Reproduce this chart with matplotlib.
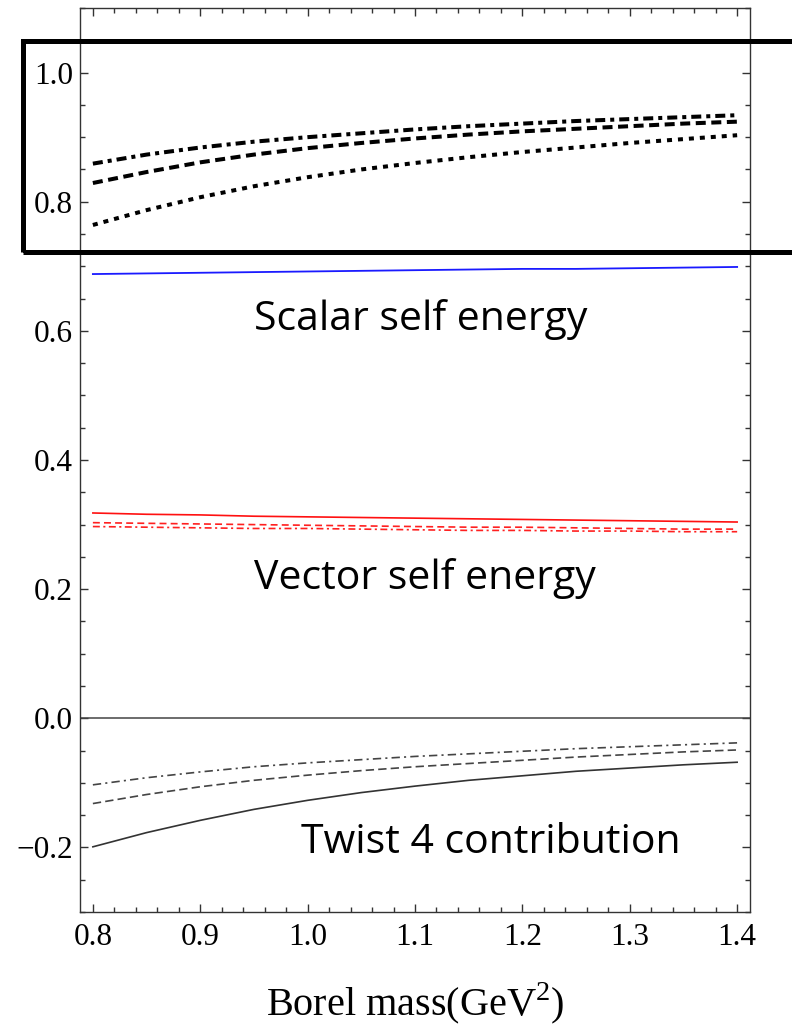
import matplotlib.pyplot as plt
from matplotlib.patches import Rectangle
from matplotlib.ticker import MultipleLocator

plt.rcParams['font.family'] = 'Liberation Serif'
plt.rcParams['mathtext.fontset'] = 'custom'
plt.rcParams['mathtext.rm'] = 'Liberation Serif'
plt.rcParams['lines.scale_dashes'] = False

# Borel mass M^2 in GeV^2
borel = [0.80, 0.85, 0.90, 0.95, 1.00, 1.05, 1.10, 1.15, 1.20, 1.25, 1.30, 1.35, 1.40]

# scalar / vector ratio curves (thick black)
ratio_dashdot = [0.859, 0.873, 0.884, 0.893, 0.900, 0.906, 0.912, 0.917, 0.921, 0.925, 0.928, 0.931, 0.934]
ratio_dashed = [0.829, 0.846, 0.861, 0.873, 0.883, 0.891, 0.898, 0.904, 0.909, 0.913, 0.917, 0.921, 0.924]
ratio_dotted = [0.764, 0.787, 0.807, 0.824, 0.838, 0.850, 0.860, 0.869, 0.877, 0.884, 0.891, 0.897, 0.903]

# scalar self energy
scalar = [0.688, 0.689, 0.690, 0.691, 0.692, 0.693, 0.694, 0.695, 0.696, 0.696, 0.697, 0.698, 0.699]

# vector self energy
vector_solid = [0.318, 0.316, 0.315, 0.313, 0.312, 0.311, 0.310, 0.309, 0.308, 0.307, 0.306, 0.305, 0.304]
vector_dashed = [0.303, 0.302, 0.301, 0.300, 0.299, 0.298, 0.297, 0.296, 0.296, 0.295, 0.294, 0.293, 0.293]
vector_dashdot = [0.297, 0.296, 0.295, 0.294, 0.294, 0.293, 0.292, 0.291, 0.291, 0.290, 0.290, 0.289, 0.289]

# twist 4 contribution
twist_solid = [-0.199, -0.177, -0.158, -0.141, -0.127, -0.115, -0.105, -0.096, -0.089, -0.082, -0.077, -0.072, -0.068]
twist_dashed = [-0.132, -0.118, -0.106, -0.096, -0.088, -0.081, -0.075, -0.070, -0.065, -0.060, -0.056, -0.052, -0.049]
twist_dashdot = [-0.103, -0.092, -0.083, -0.075, -0.069, -0.064, -0.059, -0.055, -0.051, -0.047, -0.044, -0.041, -0.038]

xticks = [0.8, 0.9, 1.0, 1.1, 1.2, 1.3, 1.4]
xtick_labels = ['0.8', '0.9', '1.0', '1.1', '1.2', '1.3', '1.4']
yticks = [-0.2, 0.0, 0.2, 0.4, 0.6, 0.8, 1.0]
ytick_labels = ['\u22120.2', '0.0', '0.2', '0.4', '0.6', '0.8', '1.0']

fig = plt.figure(figsize=(7.92, 10.28), dpi=100)
ax = fig.add_axes([0.101, 0.1128, 0.846, 0.8794])

thick = 2.9
ax.plot(borel, ratio_dashdot, color='black', lw=thick, dashes=(7.2, 3.6, 2.9, 3.6), dash_capstyle='butt')
ax.plot(borel, ratio_dashed, color='black', lw=thick, dashes=(7.2, 4.0), dash_capstyle='butt')
ax.plot(borel, ratio_dotted, color='black', lw=thick, dashes=(3.6, 4.3), dash_capstyle='butt')

ax.plot(borel, scalar, color='#1a1aff', lw=1.3)

ax.plot(borel, vector_solid, color='#ff1010', lw=1.2)
ax.plot(borel, vector_dashed, color='#ff2020', lw=1.2, dashes=(5, 3))
ax.plot(borel, vector_dashdot, color='#ff2020', lw=1.2, dashes=(5, 2.5, 1.5, 2.5))

ax.axhline(0.0, color='#444444', lw=1.1)

ax.plot(borel, twist_solid, color='#333333', lw=1.2)
ax.plot(borel, twist_dashed, color='#444444', lw=1.2, dashes=(6, 3))
ax.plot(borel, twist_dashdot, color='#444444', lw=1.2, dashes=(6, 3, 1.5, 3))

text_font = ['Open Sans', 'DejaVu Sans']
ax.text(0.950, 0.6015, 'Scalar self energy', fontsize=29.5, family=text_font, va='baseline', ha='left')
ax.text(0.950, 0.200, 'Vector self energy', fontsize=29.5, family=text_font, va='baseline', ha='left')
ax.text(0.994, -0.209, 'Twist 4 contribution', fontsize=29.5, family=text_font, va='baseline', ha='left')

ax.set_xlim(0.788, 1.412)
ax.set_ylim(-0.3, 1.1)
ax.set_xticks(xticks)
ax.set_xticklabels(xtick_labels, fontsize=22.5)
ax.set_yticks(yticks)
ax.set_yticklabels(ytick_labels, fontsize=22.5)
ax.xaxis.set_minor_locator(MultipleLocator(0.02))
ax.yaxis.set_minor_locator(MultipleLocator(0.05))
ax.tick_params(which='both', direction='in', top=True, right=True, color='#333333', width=1.0)
ax.tick_params(which='major', length=6)
ax.tick_params(which='minor', length=3.5)
ax.tick_params(axis='x', which='major', pad=8)
ax.tick_params(axis='y', which='major', pad=5)
for sp in ax.spines.values():
    sp.set_color('#333333')
    sp.set_linewidth(1.0)

ax.set_xlabel('Borel mass(GeV$^2$)', fontsize=29, labelpad=20)

# highlight box round the upper curves
box = Rectangle((0.029, 0.7549), 1.2, 0.2053, transform=fig.transFigure,
                fill=False, edgecolor='black', lw=3.6, clip_on=False)
fig.patches.append(box)

fig.savefig('out.png', dpi=100)
